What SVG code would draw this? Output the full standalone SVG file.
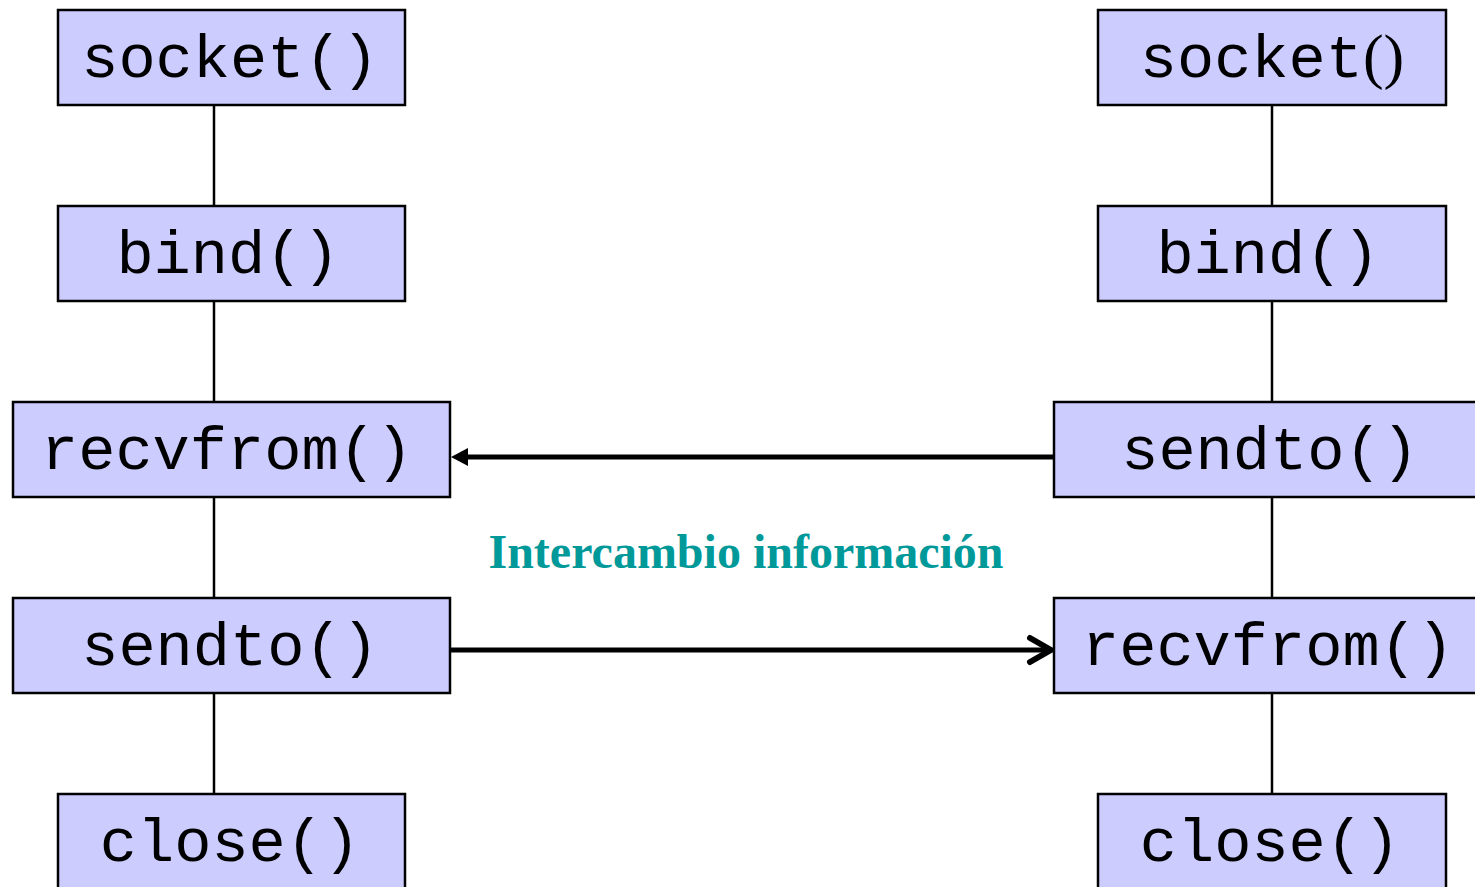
<svg xmlns="http://www.w3.org/2000/svg" width="1475" height="887" viewBox="0 0 1475 887">
<defs>
<style>
.box{fill:#CCCCFF;stroke:#000;stroke-width:2.5}
.t{font-family:"Liberation Mono",monospace;font-size:62px;fill:#000;text-anchor:middle}
.ser{font-family:"Liberation Serif",serif}
.line{stroke:#000;stroke-width:2.5;fill:none}
.arrow{stroke:#000;stroke-width:5;fill:none}
.lbl{font-family:"Liberation Serif",serif;font-weight:bold;font-size:48px;fill:#009999;text-anchor:middle}
</style>
</defs>
<rect width="1475" height="887" fill="#fff"/>
<g id="connectors">
<line class="line" x1="214" y1="105" x2="214" y2="206"/>
<line class="line" x1="214" y1="301" x2="214" y2="402"/>
<line class="line" x1="214" y1="497" x2="214" y2="598"/>
<line class="line" x1="214" y1="693" x2="214" y2="794"/>
<line class="line" x1="1272" y1="105" x2="1272" y2="206"/>
<line class="line" x1="1272" y1="301" x2="1272" y2="402"/>
<line class="line" x1="1272" y1="497" x2="1272" y2="598"/>
<line class="line" x1="1272" y1="693" x2="1272" y2="794"/>
<line class="arrow" x1="1054" y1="457" x2="462" y2="457"/>
<path d="M451,457 L468,448 L468,466 Z" fill="#000"/>
<line class="arrow" x1="450" y1="650" x2="1050" y2="650"/>
<path d="M1030,638 L1051,650 L1030,662" fill="none" stroke="#000" stroke-width="6" stroke-linecap="round" stroke-linejoin="round"/>
</g>
<g id="l-socket"><rect class="box" x="58" y="10" width="347" height="95"/><text class="t" x="230" y="77">socket()</text></g>
<g id="l-bind"><rect class="box" x="58" y="206" width="347" height="95"/><text class="t" x="228" y="273">bind()</text></g>
<g id="l-recvfrom"><rect class="box" x="13" y="402" width="437" height="95"/><text class="t" x="227" y="469">recvfrom()</text></g>
<g id="l-sendto"><rect class="box" x="13" y="598" width="437" height="95"/><text class="t" x="230" y="665">sendto()</text></g>
<g id="l-close"><rect class="box" x="58" y="794" width="347" height="100"/><text class="t" x="230" y="861">close()</text></g>
<g id="r-socket"><rect class="box" x="1098" y="10" width="348" height="95"/><text class="t" x="1272" y="77">socket<tspan class="ser">()</tspan></text></g>
<g id="r-bind"><rect class="box" x="1098" y="206" width="348" height="95"/><text class="t" x="1268" y="273">bind()</text></g>
<g id="r-sendto"><rect class="box" x="1054" y="402" width="430" height="95"/><text class="t" x="1270" y="469">sendto()</text></g>
<g id="r-recvfrom"><rect class="box" x="1054" y="598" width="430" height="95"/><text class="t" x="1268" y="665">recvfrom()</text></g>
<g id="r-close"><rect class="box" x="1098" y="794" width="348" height="100"/><text class="t" x="1270" y="861">close()</text></g>
<text class="lbl" x="746" y="568">Intercambio información</text>
</svg>
